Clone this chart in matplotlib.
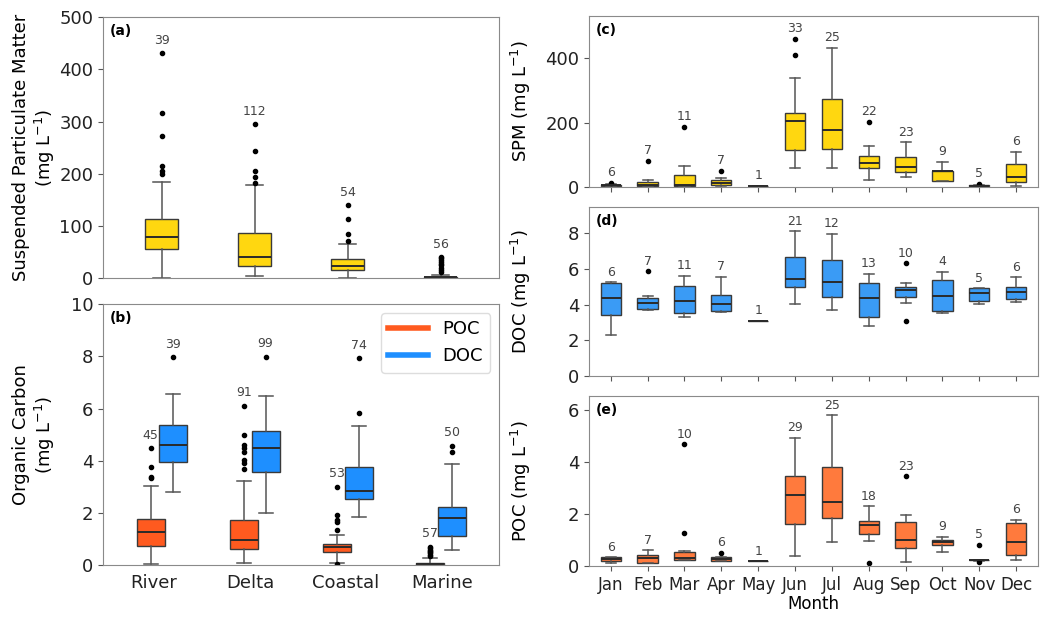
import matplotlib
matplotlib.use('Agg')
import matplotlib.pyplot as plt
from matplotlib.lines import Line2D

# ---- panel (a): SPM by zone ----
zones = ['River', 'Delta', 'Coastal', 'Marine']
spm_q1 = [56, 23, 16, 0.5]
spm_med = [80, 41, 24, 2]
spm_q3 = [113, 87, 36, 3]
spm_lo = [1, 4, 1, 0]
spm_hi = [184, 179, 65, 6]
spm_fl = [[200, 205, 215, 272, 316, 432],
          [182, 194, 205, 244, 296],
          [72, 85, 114, 140],
          [12, 16, 20, 25, 28, 32, 35, 38, 40]]
spm_n = [39, 112, 54, 56]

# ---- panel (b): POC / DOC by zone ----
poc_q1 = [0.75, 0.61, 0.51, 0.01]
poc_med = [1.28, 0.96, 0.71, 0.05]
poc_q3 = [1.75, 1.73, 0.82, 0.10]
poc_lo = [0.04, 0.10, 0.08, 0.0]
poc_hi = [3.04, 3.21, 1.16, 0.29]
poc_fl = [[3.35, 3.39, 3.75, 4.48],
          [3.7, 3.93, 4.03, 4.35, 4.48, 4.6, 5.0, 6.1],
          [0.04, 1.33, 1.65, 1.73, 1.93, 3.01],
          [0.35, 0.4, 0.45, 0.5, 0.55, 0.6, 0.65, 0.7]]
poc_n = [45, 91, 53, 57]

doc_q1 = [3.94, 3.56, 2.54, 1.10]
doc_med = [4.59, 4.50, 2.86, 1.80]
doc_q3 = [5.37, 5.14, 3.78, 2.22]
doc_lo = [2.79, 1.98, 1.86, 0.60]
doc_hi = [6.57, 6.47, 5.32, 3.89]
doc_fl = [[7.96], [7.98], [5.83, 7.92], [4.35, 4.58]]
doc_n = [39, 99, 74, 50]

# ---- panels (c)-(e): monthly ----
months = ['Jan', 'Feb', 'Mar', 'Apr', 'May', 'Jun', 'Jul', 'Aug', 'Sep', 'Oct', 'Nov', 'Dec']

m_spm_q1 = [4, 4, 3, 7, 4, 114, 117, 59, 46, 18, 3, 16]
m_spm_med = [5, 7, 5, 13, 4, 205, 177, 76, 61, 49, 4, 32]
m_spm_q3 = [7, 16, 38, 21, 4, 231, 273, 96, 94, 51, 5, 70]
m_spm_lo = [2, 2, 1, 4, 4, 58, 58, 23, 31, 17, 2, 3]
m_spm_hi = [9, 21, 65, 27, 4, 338, 433, 129, 139, 77, 7, 109]
m_spm_fl = [[12], [80], [187], [51], [], [410, 462], [], [202], [], [], [9], []]
m_spm_n = [6, 7, 11, 7, 1, 33, 25, 22, 23, 9, 5, 6]

m_doc_q1 = [3.42, 3.76, 3.55, 3.64, 3.10, 5.01, 4.45, 3.29, 4.45, 3.66, 4.21, 4.34]
m_doc_med = [4.36, 4.11, 4.22, 4.02, 3.10, 5.42, 5.29, 4.39, 4.82, 4.47, 4.64, 4.69]
m_doc_q3 = [5.20, 4.36, 5.05, 4.54, 3.10, 6.65, 6.49, 5.20, 5.01, 5.38, 4.92, 4.97]
m_doc_lo = [2.30, 3.70, 3.29, 3.57, 3.10, 4.06, 3.72, 2.80, 4.09, 3.50, 4.02, 4.13]
m_doc_hi = [5.27, 4.50, 5.63, 5.57, 3.10, 8.13, 7.98, 5.74, 5.20, 5.85, 4.92, 5.53]
m_doc_fl = [[], [5.87], [], [], [], [], [], [], [3.07, 6.34], [], [], []]
m_doc_n = [6, 7, 11, 7, 1, 21, 12, 13, 10, 4, 5, 6]

m_poc_q1 = [0.18, 0.12, 0.22, 0.19, 0.19, 1.61, 1.84, 1.24, 0.68, 0.81, 0.22, 0.41]
m_poc_med = [0.26, 0.29, 0.31, 0.28, 0.19, 2.74, 2.48, 1.56, 1.01, 0.91, 0.24, 0.92]
m_poc_q3 = [0.33, 0.41, 0.52, 0.33, 0.19, 3.45, 3.81, 1.73, 1.68, 1.00, 0.24, 1.66]
m_poc_lo = [0.12, 0.12, 0.22, 0.18, 0.19, 0.36, 0.90, 0.95, 0.14, 0.55, 0.19, 0.22]
m_poc_hi = [0.33, 0.61, 0.58, 0.33, 0.19, 4.94, 5.81, 2.30, 1.96, 1.13, 0.24, 1.78]
m_poc_fl = [[], [], [1.27, 4.70], [0.51], [], [], [], [0.09], [3.47], [], [0.14, 0.81], []]
m_poc_n = [6, 7, 10, 6, 1, 29, 25, 18, 23, 9, 5, 6]

GOLD = '#FFD710'
POC_C = '#FF5A1F'
DOC_C = '#1E8FFF'
POC_C2 = '#FF7A3D'
DOC_C2 = '#3A9BF5'

plt.rcParams['font.family'] = 'DejaVu Sans'
plt.rcParams['axes.edgecolor'] = '#8a8a8a'
plt.rcParams['xtick.color'] = '#555555'
plt.rcParams['ytick.color'] = '#555555'
plt.rcParams['xtick.labelcolor'] = '#222222'
plt.rcParams['ytick.labelcolor'] = '#222222'


def make_stats(q1, med, q3, lo, hi, fl):
    return [dict(q1=a, med=b, q3=c, whislo=d, whishi=e, fliers=f)
            for a, b, c, d, e, f in zip(q1, med, q3, lo, hi, fl)]


def draw_boxes(ax, stats, pos, width, color):
    ax.bxp(stats, positions=pos, widths=width, patch_artist=True, showfliers=True,
           boxprops=dict(facecolor=color, edgecolor='#3a3a3a', linewidth=1.0),
           medianprops=dict(color='#2a2a2a', linewidth=1.4),
           whiskerprops=dict(color='#555555', linewidth=1.1),
           capprops=dict(color='#555555', linewidth=1.1),
           flierprops=dict(marker='o', markerfacecolor='black', markeredgecolor='black',
                           markersize=3, linestyle='none'),
           manage_ticks=False)


def add_counts(ax, stats, pos, n, off):
    for s, p, k in zip(stats, pos, n):
        top = max([s['whishi']] + list(s['fliers']))
        ax.text(p, top + off, str(k), ha='center', va='center', fontsize=9, color='#444444')


def tag(ax, label):
    ax.annotate(label, xy=(0, 1), xycoords='axes fraction', xytext=(5, -10),
                textcoords='offset points', ha='left', va='center', fontsize=10, fontweight='bold')


fig = plt.figure(figsize=(10.51, 6.17), dpi=100)
ax_a = fig.add_axes([0.098, 0.549, 0.377, 0.423])
ax_b = fig.add_axes([0.098, 0.084, 0.377, 0.423])
ax_c = fig.add_axes([0.5604, 0.697, 0.4272, 0.277])
ax_d = fig.add_axes([0.5604, 0.391, 0.4272, 0.274])
ax_e = fig.add_axes([0.5604, 0.083, 0.4272, 0.275])

# (a)
pos_z = [1, 2, 3, 4]
st = make_stats(spm_q1, spm_med, spm_q3, spm_lo, spm_hi, spm_fl)
draw_boxes(ax_a, st, pos_z, 0.355, GOLD)
add_counts(ax_a, st, pos_z, spm_n, 24)
ax_a.set_xlim(0.37, 4.63)
ax_a.set_ylim(0, 500)
ax_a.set_xticks([])
ax_a.set_yticks([0, 100, 200, 300, 400, 500])
ax_a.set_ylabel('Suspended Particulate Matter\n(mg L$^{-1}$)', fontsize=13)
ax_a.yaxis.set_label_coords(-0.115, 0.5)
tag(ax_a, '(a)')

# (b)
pos_poc = [p - 0.118 for p in pos_z]
pos_doc = [p + 0.118 for p in pos_z]
st_p = make_stats(poc_q1, poc_med, poc_q3, poc_lo, poc_hi, poc_fl)
st_d = make_stats(doc_q1, doc_med, doc_q3, doc_lo, doc_hi, doc_fl)
draw_boxes(ax_b, st_p, pos_poc, 0.3, POC_C)
draw_boxes(ax_b, st_d, pos_doc, 0.3, DOC_C)
add_counts(ax_b, st_p, pos_poc, poc_n, 0.5)
add_counts(ax_b, st_d, pos_doc, doc_n, 0.5)
ax_b.set_xlim(0.37, 4.63)
ax_b.set_ylim(0, 10)
ax_b.set_xticks([0.92, 1.95, 2.98, 4.02])
ax_b.set_xticklabels(zones, fontsize=13)
ax_b.tick_params(axis='x', length=0, pad=6)
ax_b.set_yticks([0, 2, 4, 6, 8, 10])
ax_b.set_ylabel('Organic Carbon\n(mg L$^{-1}$)', fontsize=13)
ax_b.yaxis.set_label_coords(-0.115, 0.5)
handles = [Line2D([], [], color=POC_C, lw=4), Line2D([], [], color=DOC_C, lw=4)]
ax_b.legend(handles, ['POC', 'DOC'], loc='upper right', fontsize=13, borderaxespad=0.5,
            handlelength=2.2, framealpha=1, edgecolor='#dddddd')
tag(ax_b, '(b)')

# (c)-(e)
pos_m = list(range(12))
panels = [
    (ax_c, make_stats(m_spm_q1, m_spm_med, m_spm_q3, m_spm_lo, m_spm_hi, m_spm_fl), m_spm_n,
     GOLD, 532, 32, [0, 200, 400], 'SPM (mg L$^{-1}$)', '(c)'),
    (ax_d, make_stats(m_doc_q1, m_doc_med, m_doc_q3, m_doc_lo, m_doc_hi, m_doc_fl), m_doc_n,
     DOC_C2, 9.5, 0.55, [0, 2, 4, 6, 8], 'DOC (mg L$^{-1}$)', '(d)'),
    (ax_e, make_stats(m_poc_q1, m_poc_med, m_poc_q3, m_poc_lo, m_poc_hi, m_poc_fl), m_poc_n,
     POC_C2, 6.55, 0.38, [0, 2, 4, 6], 'POC (mg L$^{-1}$)', '(e)'),
]
for ax, st, n, col, ytop, off, yt, ylab, lab in panels:
    draw_boxes(ax, st, pos_m, 0.55, col)
    add_counts(ax, st, pos_m, n, off)
    ax.set_xlim(-0.59, 11.59)
    ax.set_ylim(0, ytop)
    ax.set_yticks(yt)
    ax.set_xticks(pos_m)
    ax.tick_params(axis='y', labelsize=13)
    ax.set_ylabel(ylab, fontsize=13)
    ax.yaxis.set_label_coords(-0.125, 0.5)
    tag(ax, lab)
    if ax is ax_e:
        ax.set_xticklabels(months, fontsize=12)
        ax.set_xlabel('Month', fontsize=12, labelpad=1)
    else:
        ax.set_xticklabels([])

for ax in (ax_a, ax_b):
    ax.tick_params(axis='y', labelsize=13)

fig.savefig('out.png', dpi=100)
